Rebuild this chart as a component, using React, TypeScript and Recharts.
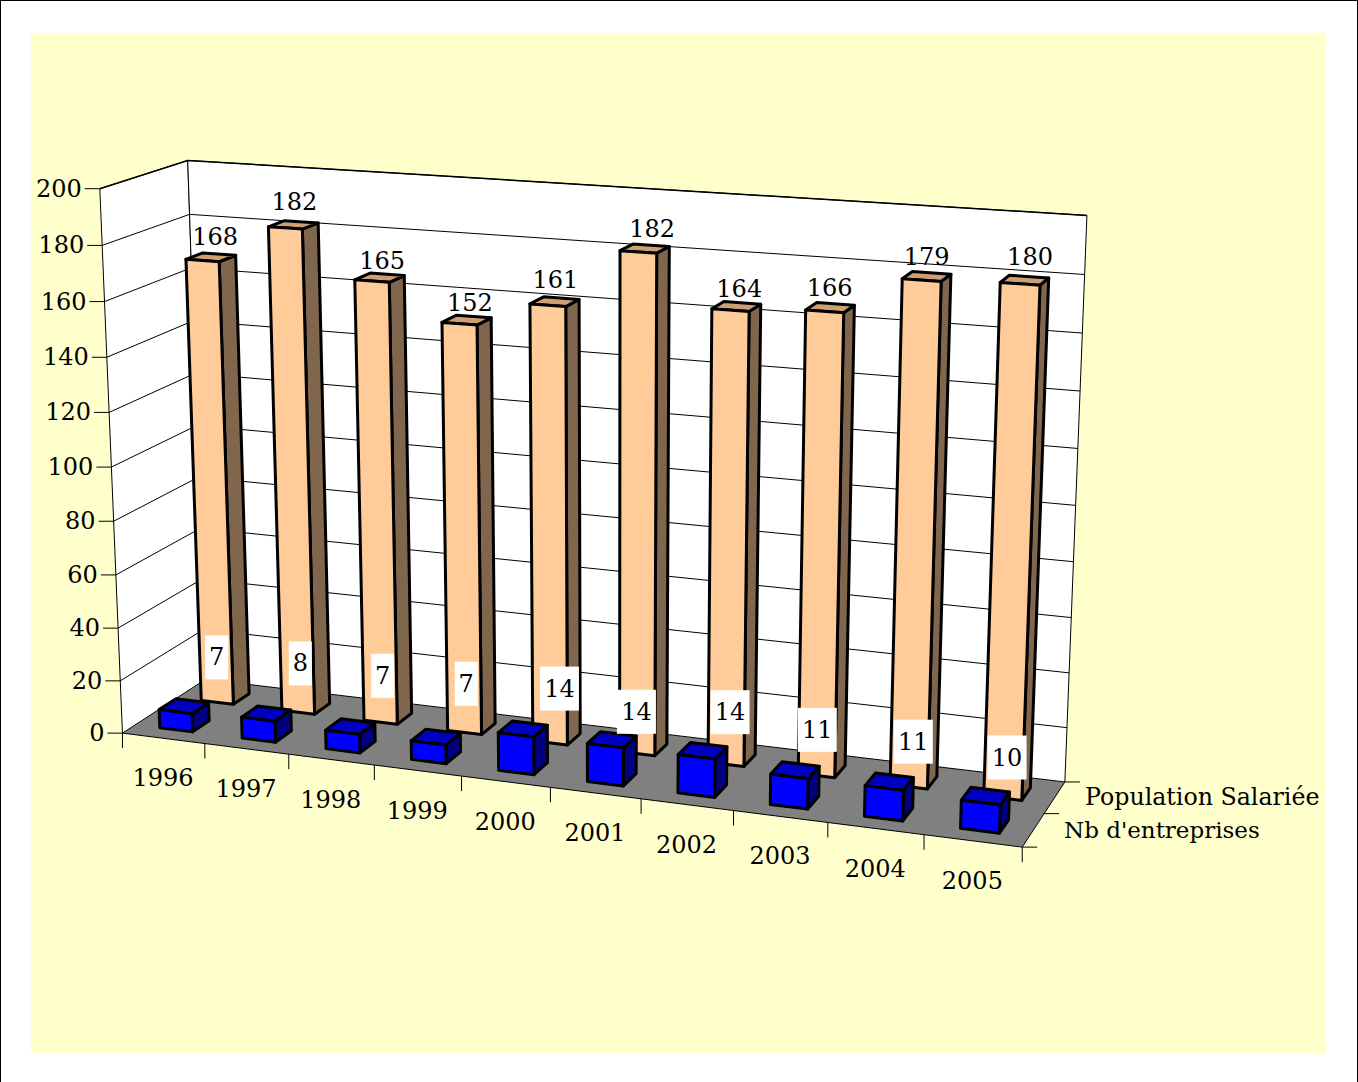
import { BarChart, Bar, XAxis, YAxis, LabelList, Customized } from 'recharts';

const years = ['1996', '1997', '1998', '1999', '2000', '2001', '2002', '2003', '2004', '2005'];
const populationSalariee = [168, 182, 165, 152, 161, 182, 164, 166, 179, 180];
const nbEntreprises = [7, 8, 7, 7, 14, 14, 14, 11, 11, 10];
const yTicks = [0, 20, 40, 60, 80, 100, 120, 140, 160, 180, 200];

const data = years.map((annee, i) => ({
  annee,
  population: populationSalariee[i],
  entreprises: nbEntreprises[i],
}));

// the original chart moves its value labels around, per year
const popLabelDx = [-9, -12, -10, -9, -11, -4, -8, -11, -10, -4];
const popLabelDy = [0, -3, 4, 3, -1, 1, 3, 1, 1, -3];
const entLabelDx = [-8, -5, -5, -5, 3, -7, -2, -5, -1, -1];
const entLabelDy = [5, 4, 4, 2, 15, 28, 18, 17, 18, 20];

const WIDTH = 1358;
const HEIGHT = 1082;
const FONT = '"DejaVu Serif", serif';
const FONT_SIZE = 24;

// the flat plot area recharts lays out; every mark is then projected from it
const PLOT = { left: 200, top: 100, width: 900, height: 800 };

// corners of the 3d box as seen in the picture: [u, v, w] -> [x, y]
const corners: number[][] = [
  [0, 0, 0, 122, 732.5],
  [1, 0, 0, 1022, 848],
  [0, 1, 0, 206, 680],
  [1, 1, 0, 1065, 781],
  [0, 0, 1, 100.5, 188.5],
  [0, 1, 1, 187, 160.5],
  [1, 1, 1, 1087, 215.5],
];

function solveCamera(pts: number[][]) {
  const rows: number[][] = [];
  const rhs: number[] = [];
  pts.forEach(([u, v, w, x, y]) => {
    rows.push([u, v, w, 1, 0, 0, 0, 0, -x * u, -x * v, -x * w]);
    rhs.push(x);
    rows.push([0, 0, 0, 0, u, v, w, 1, -y * u, -y * v, -y * w]);
    rhs.push(y);
  });
  const n = 11;
  const m = Array.from({ length: n }, (_, i) => {
    const row = Array.from({ length: n }, (_, j) => rows.reduce((s, r) => s + r[i] * r[j], 0));
    row.push(rows.reduce((s, r, k) => s + r[i] * rhs[k], 0));
    return row;
  });
  for (let c = 0; c < n; c++) {
    let best = c;
    for (let r = c + 1; r < n; r++) if (Math.abs(m[r][c]) > Math.abs(m[best][c])) best = r;
    [m[c], m[best]] = [m[best], m[c]];
    for (let r = 0; r < n; r++) {
      if (r === c) continue;
      const f = m[r][c] / m[c][c];
      for (let k = c; k <= n; k++) m[r][k] -= f * m[c][k];
    }
  }
  return m.map((row, i) => row[n] / row[i]);
}

const cam = solveCamera(corners);

function project(u: number, v: number, w: number): [number, number] {
  const d = cam[8] * u + cam[9] * v + cam[10] * w + 1;
  return [
    (cam[0] * u + cam[1] * v + cam[2] * w + cam[3]) / d,
    (cam[4] * u + cam[5] * v + cam[6] * w + cam[7]) / d,
  ];
}

const toU = (x: number) => (x - PLOT.left) / PLOT.width;
const toW = (y: number) => (PLOT.top + PLOT.height - y) / PLOT.height;
const poly = (pts: [number, number][]) => pts.map((p) => p.join(',')).join(' ');

function makeBar(front: string, top: string, side: string, v0: number, v1: number) {
  return function Bar3d(props: any) {
    const { x, y, width, height } = props;
    const u0 = toU(x);
    const u1 = toU(x + width);
    const w0 = toW(y + height);
    const w1 = toW(y);
    const sw = { stroke: '#000', strokeWidth: 3, strokeLinejoin: 'round' as const };
    return (
      <g>
        <polygon points={poly([project(u1, v0, w0), project(u1, v1, w0), project(u1, v1, w1), project(u1, v0, w1)])} fill={side} {...sw} />
        <polygon points={poly([project(u0, v0, w1), project(u1, v0, w1), project(u1, v1, w1), project(u0, v1, w1)])} fill={top} {...sw} />
        <polygon points={poly([project(u0, v0, w0), project(u1, v0, w0), project(u1, v0, w1), project(u0, v0, w1)])} fill={front} {...sw} />
      </g>
    );
  };
}

function Walls() {
  return (
    <g>
      <polygon points={poly([project(0, 0, 0), project(0, 1, 0), project(1, 1, 0), project(1, 0, 0)])} fill="#808080" />
      <polygon points={poly([project(0, 0, 0), project(0, 1, 0), project(0, 1, 1), project(0, 0, 1)])} fill="#fff" stroke="#000" strokeWidth={1} />
      <polygon points={poly([project(0, 1, 0), project(1, 1, 0), project(1, 1, 1), project(0, 1, 1)])} fill="#fff" stroke="#000" strokeWidth={1} />
      {yTicks.slice(1, -1).map((t) => {
        const w = t / 200;
        return <polyline key={t} points={poly([project(0, 0, w), project(0, 1, w), project(1, 1, w)])} fill="none" stroke="#000" strokeWidth={1} />;
      })}
      <polyline points={poly([project(0, 0, 1), project(0, 1, 1), project(1, 1, 1)])} fill="none" stroke="#000" strokeWidth={1.5} />
      <polyline points={poly([project(0, 0, 0), project(1, 0, 0), project(1, 1, 0)])} fill="none" stroke="#000" strokeWidth={1} />
      {[0, 0.5, 1].map((v) => {
        const [x, y] = project(1, v, 0);
        return <line key={v} x1={x} y1={y} x2={x + 15} y2={y} stroke="#000" strokeWidth={1} />;
      })}
      <text x={1085} y={805} fontFamily={FONT} fontSize={23.7} fill="#000">Population Salariée</text>
      <text x={1064} y={838} fontFamily={FONT} fontSize={23} fill="#000">Nb d'entreprises</text>
    </g>
  );
}

function YTick({ y, payload }: any) {
  const [px, py] = project(0, 0, toW(y));
  return (
    <g>
      <line x1={px - 15} y1={py} x2={px} y2={py} stroke="#000" strokeWidth={1} />
      <text x={px - 18} y={py + 8} textAnchor="end" fontFamily={FONT} fontSize={FONT_SIZE} fill="#000">{payload.value}</text>
    </g>
  );
}

function XTick({ x, payload, index }: any) {
  const [cx, cy] = project(toU(x), 0, 0);
  const u = index / years.length;
  const [lx, ly] = project(u, 0, 0);
  const [ex, ey] = project(1, 0, 0);
  return (
    <g>
      <line x1={lx} y1={ly} x2={lx} y2={ly + 15} stroke="#000" strokeWidth={1} />
      {index === years.length - 1 && <line x1={ex} y1={ey} x2={ex} y2={ey + 15} stroke="#000" strokeWidth={1} />}
      <text x={cx - 0.5} y={cy + 48} textAnchor="middle" fontFamily={FONT} fontSize={FONT_SIZE} fill="#000">{payload.value}</text>
    </g>
  );
}

function PopLabel({ x, y, width, value, index }: any) {
  const [px, py] = project(toU(x + width / 2), 0.85, toW(y));
  return (
    <text x={px + 5 + popLabelDx[index]} y={py - 9 + popLabelDy[index]} textAnchor="middle" fontFamily={FONT} fontSize={FONT_SIZE} fill="#000">
      {value}
    </text>
  );
}

function EntLabel({ x, y, width, value, index }: any) {
  const [px, py] = project(toU(x + width / 2), 0.75, toW(y));
  const cx = px + entLabelDx[index];
  const cy = py + entLabelDy[index];
  const w = 7 + 16 * String(value).length;
  return (
    <g>
      <rect x={cx - w / 2} y={cy - 49} width={w} height={44} fill="#fff" />
      <text x={cx} y={cy - 19} textAnchor="middle" fontFamily={FONT} fontSize={FONT_SIZE} fill="#000">{value}</text>
    </g>
  );
}

export default function App() {
  return (
    <div
      style={{
        position: 'absolute',
        left: 0,
        top: 0,
        width: WIDTH,
        height: HEIGHT,
        background: '#fff',
        boxSizing: 'border-box',
        borderLeft: '1px solid #000',
        borderTop: '1px solid #000',
        borderRight: '1px solid #000',
      }}
    >
      <div style={{ position: 'absolute', left: 30, top: 32, width: 1295, height: 1020, background: '#ffffcc' }} />
      <div style={{ position: 'absolute', left: -1, top: -1 }}>
        <BarChart
          width={WIDTH}
          height={HEIGHT}
          data={data}
          margin={{ top: PLOT.top, right: WIDTH - PLOT.left - PLOT.width, bottom: 0, left: 0 }}
          barSize={36}
          barGap={-36}
        >
          <Customized component={Walls} />
          <XAxis dataKey="annee" height={HEIGHT - PLOT.top - PLOT.height} axisLine={false} tickLine={false} interval={0} tick={XTick} />
          <YAxis width={PLOT.left} domain={[0, 200]} ticks={yTicks} axisLine={false} tickLine={false} tick={YTick} interval={0} />
          <Bar dataKey="population" isAnimationActive={false} shape={makeBar('#ffcc99', '#cc9f75', '#80664d', 0.65, 0.85)}>
            <LabelList dataKey="population" content={PopLabel} />
          </Bar>
          <Bar dataKey="entreprises" isAnimationActive={false} shape={makeBar('#0000ff', '#0000c0', '#000080', 0.15, 0.35)}>
            <LabelList dataKey="entreprises" content={EntLabel} />
          </Bar>
        </BarChart>
      </div>
    </div>
  );
}
